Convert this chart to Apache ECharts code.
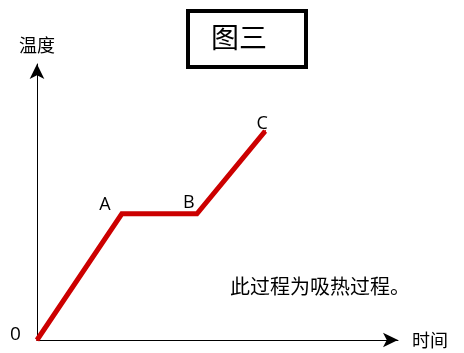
<!DOCTYPE html>
<html>
<head>
<meta charset="utf-8">
<script src="https://cdn.jsdelivr.net/npm/echarts@6/dist/echarts.min.js"></script>
<style>
  html, body { margin: 0; padding: 0; background: #fff; }
  #chart { width: 464px; height: 353px; }
</style>
</head>
<body>
<div id="chart"></div>
<script>
// 折线各点（时间, 温度）
var timeData = [0, 23.5, 44.3, 63.2];
var tempData = [0, 45.7, 45.7, 75.7];
var pointNames = ['', 'A', 'B', 'C'];

var CJK = '"Noto Sans CJK SC", sans-serif';

var myChart = echarts.init(document.getElementById('chart'));

var labelOffsets = [[0, 0], [-17, -9], [-8, -11], [-3, -7]];
var seriesData = [];
for (var i = 0; i < timeData.length; i++) {
  seriesData.push({
    value: [timeData[i], tempData[i]],
    name: pointNames[i],
    label: { show: pointNames[i] !== '', offset: labelOffsets[i] },
  });
}

var option = {
  animation: false,
  grid: { left: 37, right: 66, top: 64, bottom: 13 },
  xAxis: {
    type: 'value',
    min: 0,
    max: 100,
    name: '时间',
    nameGap: 14,
    nameTextStyle: { color: '#000', fontSize: 18, fontFamily: CJK },
    axisLine: { lineStyle: { color: '#000', width: 1 }, symbol: ['none', 'arrow'], symbolSize: [11, 15] },
    axisTick: { show: false },
    axisLabel: { show: false },
    splitLine: { show: false },
  },
  yAxis: {
    type: 'value',
    min: 0,
    max: 100,
    name: '温度',
    nameGap: 10,
    nameTextStyle: { color: '#000', fontSize: 18, fontFamily: CJK, align: 'center' },
    axisLine: { lineStyle: { color: '#000', width: 1 }, symbol: ['none', 'arrow'], symbolSize: [11, 15] },
    axisTick: { show: false },
    axisLabel: { show: false },
    splitLine: { show: false },
  },
  series: [
    {
      type: 'line',
      data: seriesData,
      symbol: 'circle',
      symbolSize: 2,
      showSymbol: true,
      itemStyle: { color: '#cc0000' },
      lineStyle: { color: '#cc0000', width: 5, join: 'miter' },
      label: {
        show: true,
        position: 'inside',
        formatter: function(p) { return p.name; },
        color: '#000',
        fontSize: 18,
        fontFamily: '"Open Sans", sans-serif',
      },
    },
  ],
  graphic: [
    {
      type: 'rect',
      left: 186,
      top: 9,
      shape: { width: 118, height: 56 },
      style: { fill: '#fff', stroke: '#000', lineWidth: 4 },
    },
    {
      type: 'text',
      left: 211,
      top: 23,
      style: { text: '图三', font: '28px ' + CJK, fill: '#000' },
    },
    {
      type: 'text',
      left: 10,
      top: 325,
      style: { text: '0', font: '19px "Open Sans", sans-serif', fill: '#000' },
    },
    {
      type: 'text',
      left: 230,
      top: 276,
      style: { text: '此过程为吸热过程。', font: '20px ' + CJK, fill: '#000' },
    },
  ],
};
myChart.setOption(option);
</script>
</body>
</html>
